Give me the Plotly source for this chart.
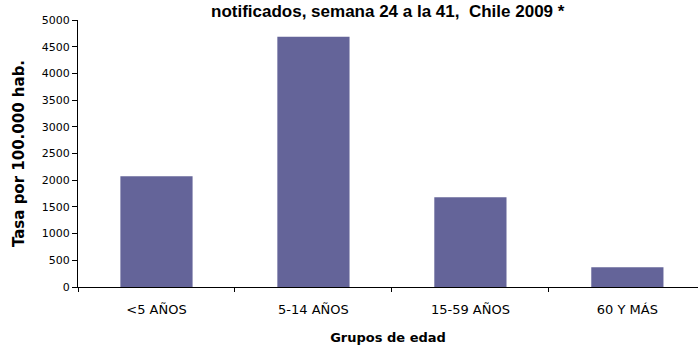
import plotly.graph_objects as go

categories = ["<5 AÑOS", "5-14 AÑOS", "15-59 AÑOS", "60 Y MÁS"]
values = [2075, 4685, 1680, 370]
y_ticks = [0, 500, 1000, 1500, 2000, 2500, 3000, 3500, 4000, 4500, 5000]

fig = go.Figure(go.Bar(x=categories, y=values, marker_color="#646499",
                       marker_line_width=0, width=0.46))

font = "Liberation Sans, Arial, sans-serif"
wide = "DejaVu Sans, Verdana, sans-serif"
fig.update_layout(
    width=698, height=347,
    margin=dict(l=78, r=0, t=20, b=60),
    paper_bgcolor="white", plot_bgcolor="white",
    font=dict(family=font, size=11, color="black"),
    showlegend=False,
    xaxis=dict(range=[-0.5, 3.45], showline=True, linecolor="black", linewidth=1,
               ticks="outside", tickson="boundaries", ticklen=4, tickcolor="black",
               showgrid=False, tickfont=dict(size=13, family=wide), ticklabelstandoff=10,
               title=dict(text="<b>Grupos de edad</b>", font=dict(size=13, family=wide),
                          standoff=17)),
    yaxis=dict(range=[0, 5000], tickvals=y_ticks, showline=True, linecolor="black",
               linewidth=1, ticks="outside", ticklen=5, tickcolor="black",
               showgrid=False, zeroline=False, tickfont=dict(size=11, family=wide),
               title=dict(text="<b>Tasa por 100.000 hab.</b>", font=dict(size=15, family=wide),
                          standoff=13)),
)
fig.add_annotation(text="<b>notificados, semana 24 a la 41,  Chile 2009 *</b>",
                   xref="paper", yref="paper", x=0.5, y=1, yanchor="top",
                   yshift=20, showarrow=False, font=dict(size=17, family=font))
fig.write_html("out.html")
